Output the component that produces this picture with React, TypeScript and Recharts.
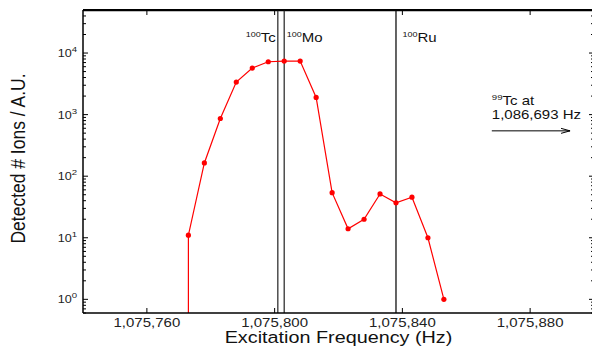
import { LineChart, Line, XAxis, YAxis, ReferenceLine, Label } from 'recharts';

const frequencies = [
  1075773, 1075778, 1075783, 1075788, 1075793, 1075798, 1075803, 1075808, 1075813,
  1075818, 1075823, 1075828, 1075833, 1075838, 1075843, 1075848, 1075853,
];
const ionCounts = [11, 164, 865, 3380, 5700, 7220, 7410, 7400, 1900, 54, 14, 20, 51.5, 37, 45.6, 10, 1];
// the scan step before the first point had no ions; it sits far below the log axis
const emptyStepCount = 0.01;

const freqTicks = [1075760, 1075800, 1075840, 1075880];
const countDecades = [1, 10, 100, 1000, 10000];

const isotopeMasses = ['100', '100', '100'];
const isotopeSymbols = ['Tc', 'Mo', 'Ru'];
const isotopeFreqs = [1075801, 1075803, 1075838];

const refMass = '99';
const refText = 'Tc at';
const refFreqText = '1,086,693 Hz';

const FONT = '"Liberation Sans", Arial, sans-serif';
const STRETCH = 1.2;
const Y_DOMAIN: [number, number] = [0.6, 50000];
const X_DOMAIN: [number, number] = [1075740, 1075900];

// chart box; the plot's right edge runs just past the page like in the source
const CHART_W = 596;
const CHART_H = 348;
const M_TOP = 10;
const M_RIGHT = 2;
const Y_AXIS_W = 83;
const X_AXIS_H = 35;
const PLOT_TOP = M_TOP;
const PLOT_RIGHT = CHART_W - M_RIGHT;
const PLOT_BOTTOM = CHART_H - X_AXIS_H;

const data = [
  { f: frequencies[0], v: emptyStepCount },
  ...frequencies.map((f, i) => ({ f, v: ionCounts[i] })),
];

const minorTicks: number[] = [];
[0.1, 1, 10, 100, 1000, 10000].forEach(d => {
  for (let m = 2; m <= 9; m++) {
    const t = d * m;
    if (t >= Y_DOMAIN[0] && t <= Y_DOMAIN[1]) minorTicks.push(t);
  }
});
const yTicks = [...countDecades, ...minorTicks].sort((a, b) => a - b);

const isDecade = (v: number) => Math.abs(Math.log10(v) - Math.round(Math.log10(v))) < 1e-6;

const fmtFreq = (v: number) => v.toLocaleString('en-US');

// left axis tick, plus its mirror on the right edge (and the right frame line once)
const LeftTick = (props: any) => {
  const { x, y, payload, index } = props;
  const major = isDecade(payload.value);
  const len = major ? 5 : 3;
  return (
    <g>
      {index === 0 && (
        <line x1={PLOT_RIGHT} y1={PLOT_TOP} x2={PLOT_RIGHT} y2={PLOT_BOTTOM} stroke="#000" strokeWidth={1.5} />
      )}
      <line x1={x} y1={y} x2={x + len} y2={y} stroke="#000" strokeWidth={1} />
      <line x1={PLOT_RIGHT} y1={y} x2={PLOT_RIGHT - len} y2={y} stroke="#000" strokeWidth={1} />
      {major && (
        <text
          transform={`translate(${x - 6},${y + 4}) scale(${STRETCH},1)`}
          textAnchor="end"
          fontFamily={FONT}
          fontSize={10.5}
          fill="#222"
        >
          10
          <tspan fontSize={8} dy={-5}>
            {Math.round(Math.log10(payload.value))}
          </tspan>
        </text>
      )}
    </g>
  );
};

// bottom axis tick, plus its mirror on the top edge (and the top frame line once)
const BottomTick = (props: any) => {
  const { x, y, payload, index } = props;
  return (
    <g>
      {index === 0 && (
        <line x1={Y_AXIS_W} y1={PLOT_TOP} x2={PLOT_RIGHT} y2={PLOT_TOP} stroke="#000" strokeWidth={1.5} />
      )}
      <line x1={x} y1={y} x2={x} y2={y - 5} stroke="#000" strokeWidth={1} />
      <line x1={x} y1={PLOT_TOP} x2={x} y2={PLOT_TOP + 5} stroke="#000" strokeWidth={1} />
      <text
        transform={`translate(${x},${y + 13.5}) scale(${STRETCH},1)`}
        textAnchor="middle"
        fontFamily={FONT}
        fontSize={12.5}
        fill="#222"
      >
        {fmtFreq(payload.value)}
      </text>
    </g>
  );
};

const FrameTop = (props: any) => {
  const { x1, y1, x2, y2 } = props;
  return <line x1={x1} y1={y1} x2={x2} y2={y2} stroke="#000" strokeWidth={1.5} />;
};

const labelDx: Record<string, number> = { Tc: -2, Mo: 2.5, Ru: 6.5 };

const IsotopeLabel = (mass: string, symbol: string) => (props: any) => {
  const { viewBox } = props;
  const dx = labelDx[symbol];
  return (
    <text
      transform={`translate(${viewBox.x + dx},${viewBox.y + 31.5}) scale(${STRETCH},1)`}
      textAnchor={dx < 0 ? 'end' : 'start'}
      fontFamily={FONT}
      fontSize={12.5}
      fill="#111"
    >
      <tspan fontSize={7.5} dy={-5}>
        {mass}
      </tspan>
      <tspan dy={5}>{symbol}</tspan>
    </text>
  );
};

const ArrowNote = (props: any) => {
  const { x1, y1, x2 } = props;
  return (
    <g>
      <line x1={x1} y1={y1} x2={x2} y2={y1} stroke="#000" strokeWidth={1} />
      <path d={`M${x2 - 9},${y1 - 2.5} L${x2},${y1} L${x2 - 9},${y1 + 2.5}`} fill="none" stroke="#000" strokeWidth={1} />
      <text
        transform={`translate(${x1},${y1 - 26}) scale(${STRETCH},1)`}
        fontFamily={FONT}
        fontSize={12.5}
        fill="#111"
      >
        <tspan fontSize={8} dy={-5}>
          {refMass}
        </tspan>
        <tspan dy={5}>{refText}</tspan>
      </text>
      <text
        transform={`translate(${x1},${y1 - 11.5}) scale(${STRETCH},1)`}
        fontFamily={FONT}
        fontSize={12.5}
        fill="#111"
      >
        {refFreqText}
      </text>
    </g>
  );
};

const RedDot = (props: any) => {
  const { cx, cy, payload, index } = props;
  if (payload.v < Y_DOMAIN[0]) return <g key={`dot-${index}`} />;
  return <circle key={`dot-${index}`} cx={cx} cy={cy} r={2.6} fill="#ff0000" stroke="none" />;
};

export default function App() {
  return (
    <div style={{ position: 'absolute', left: 0, top: 0, width: 592, height: 348, overflow: 'hidden', background: '#fff' }}>
      <LineChart width={CHART_W} height={CHART_H} data={data} margin={{ top: M_TOP, right: M_RIGHT, bottom: 0, left: 0 }}>
        <XAxis
          dataKey="f"
          type="number"
          domain={X_DOMAIN}
          ticks={freqTicks}
          interval={0}
          height={X_AXIS_H}
          tickSize={0}
          tickMargin={0}
          tick={<BottomTick />}
          axisLine={{ stroke: '#000', strokeWidth: 1.5 }}
          allowDataOverflow
        >
          <Label
            content={(p: any) => {
              const vb = p.viewBox;
              return (
                <text
                  transform={`translate(${vb.x + vb.width / 2},${vb.y + 30}) scale(${STRETCH},1)`}
                  textAnchor="middle"
                  fontFamily={FONT}
                  fontSize={16.5}
                  fill="#111"
                >
                  Excitation Frequency (Hz)
                </text>
              );
            }}
          />
        </XAxis>
        <YAxis
          scale="log"
          type="number"
          domain={Y_DOMAIN}
          ticks={yTicks}
          interval={0}
          width={Y_AXIS_W}
          tickSize={0}
          tickMargin={0}
          tick={<LeftTick />}
          axisLine={{ stroke: '#000', strokeWidth: 1.5 }}
          allowDataOverflow
        >
          <Label
            content={(p: any) => {
              const vb = p.viewBox;
              return (
                <text
                  transform={`translate(25,${vb.y + vb.height / 2 - 3}) scale(${STRETCH},1) rotate(-90)`}
                  textAnchor="middle"
                  fontFamily={FONT}
                  fontSize={17.5}
                  fill="#111"
                >
                  Detected # Ions / A.U.
                </text>
              );
            }}
          />
        </YAxis>
        <ReferenceLine
          segment={[
            { x: X_DOMAIN[0], y: 49000 },
            { x: X_DOMAIN[1], y: 49000 },
          ]}
          ifOverflow="visible"
          shape={FrameTop}
        />
        {isotopeFreqs.map((f, i) => (
          <ReferenceLine
            key={isotopeSymbols[i]}
            x={f}
            stroke={i < 2 ? '#333' : '#111'}
            strokeWidth={1.3}
            label={IsotopeLabel(isotopeMasses[i], isotopeSymbols[i])}
          />
        ))}
        <ReferenceLine
          segment={[
            { x: 1075868, y: 545 },
            { x: 1075892.5, y: 545 },
          ]}
          shape={ArrowNote}
        />
        <Line
          dataKey="v"
          stroke="#ff0000"
          strokeWidth={1.2}
          dot={RedDot}
          activeDot={false}
          isAnimationActive={false}
        />
      </LineChart>
      {/* top edge of the frame, in case the svg one is hidden */}
      <div
        style={{
          position: 'absolute',
          left: Y_AXIS_W,
          top: PLOT_TOP - 1,
          width: PLOT_RIGHT - Y_AXIS_W,
          height: 0,
          borderTop: '1.5px solid #000',
          pointerEvents: 'none',
        }}
      />
    </div>
  );
}
